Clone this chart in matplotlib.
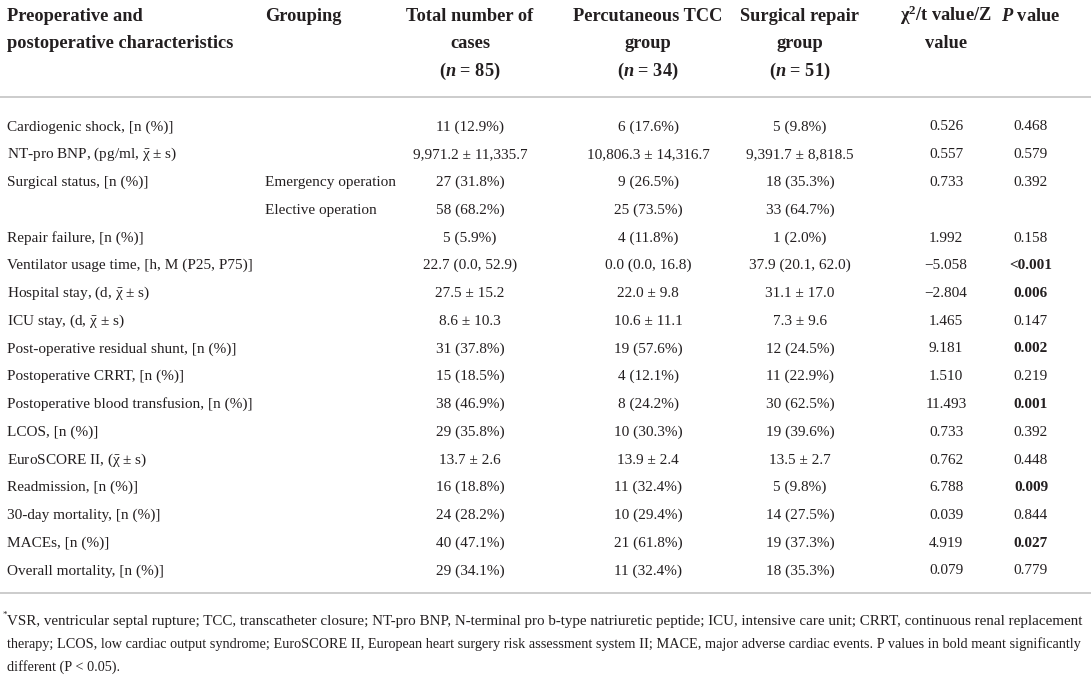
import matplotlib
matplotlib.use("Agg")
import matplotlib.pyplot as plt

plt.rcParams["font.family"] = ["Liberation Serif", "DejaVu Serif"]
plt.rcParams["mathtext.fontset"] = "custom"
plt.rcParams["mathtext.rm"] = "Liberation Serif"
plt.rcParams["mathtext.it"] = "Liberation Serif:italic"
plt.rcParams["mathtext.bf"] = "Liberation Serif:bold"
plt.rcParams["mathtext.bfit"] = "Liberation Serif:bold:italic"

XBAR = r"$\bar{\mathrm{\chi}}$"

# ---- table content ----
header_cols = [
    ["Preoperative and", "postoperative characteristics"],
    ["Grouping"],
    ["Total number of", "cases", r"($\boldsymbol{n}$ = 85)"],
    ["Percutaneous TCC", "group", r"($\boldsymbol{n}$ = 34)"],
    ["Surgical repair", "group", r"($\boldsymbol{n}$ = 51)"],
    [r"$\mathbf{\chi^2}$/t value/Z", "value"],
    [r"$\boldsymbol{P}$ value"],
]

characteristics = [
    "Cardiogenic shock, [n (%)]",
    f"NT-pro BNP, (pg/ml, {XBAR} \u00b1 s)",
    "Surgical status, [n (%)]",
    "",
    "Repair failure, [n (%)]",
    "Ventilator usage time, [h, M (P25, P75)]",
    f"Hospital stay, (d, {XBAR} \u00b1 s)",
    f"ICU stay, (d, {XBAR} \u00b1 s)",
    "Post-operative residual shunt, [n (%)]",
    "Postoperative CRRT, [n (%)]",
    "Postoperative blood transfusion, [n (%)]",
    "LCOS, [n (%)]",
    f"EuroSCORE II, ({XBAR} \u00b1 s)",
    "Readmission, [n (%)]",
    "30-day mortality, [n (%)]",
    "MACEs, [n (%)]",
    "Overall mortality, [n (%)]",
]
grouping = ["", "", "Emergency operation", "Elective operation"] + [""] * 13
total = [
    "11 (12.9%)", "9,971.2 \u00b1 11,335.7", "27 (31.8%)", "58 (68.2%)",
    "5 (5.9%)", "22.7 (0.0, 52.9)", "27.5 \u00b1 15.2", "8.6 \u00b1 10.3",
    "31 (37.8%)", "15 (18.5%)", "38 (46.9%)", "29 (35.8%)", "13.7 \u00b1 2.6",
    "16 (18.8%)", "24 (28.2%)", "40 (47.1%)", "29 (34.1%)",
]
tcc = [
    "6 (17.6%)", "10,806.3 \u00b1 14,316.7", "9 (26.5%)", "25 (73.5%)",
    "4 (11.8%)", "0.0 (0.0, 16.8)", "22.0 \u00b1 9.8", "10.6 \u00b1 11.1",
    "19 (57.6%)", "4 (12.1%)", "8 (24.2%)", "10 (30.3%)", "13.9 \u00b1 2.4",
    "11 (32.4%)", "10 (29.4%)", "21 (61.8%)", "11 (32.4%)",
]
surgical = [
    "5 (9.8%)", "9,391.7 \u00b1 8,818.5", "18 (35.3%)", "33 (64.7%)",
    "1 (2.0%)", "37.9 (20.1, 62.0)", "31.1 \u00b1 17.0", "7.3 \u00b1 9.6",
    "12 (24.5%)", "11 (22.9%)", "30 (62.5%)", "19 (39.6%)", "13.5 \u00b1 2.7",
    "5 (9.8%)", "14 (27.5%)", "19 (37.3%)", "18 (35.3%)",
]
stat_value = [
    "0.526", "0.557", "0.733", "", "1.992", "\u22125.058", "\u22122.804",
    "1.465", "9.181", "1.510", "11.493", "0.733", "0.762", "6.788",
    "0.039", "4.919", "0.079",
]
p_value = [
    "0.468", "0.579", "0.392", "", "0.158", "<0.001", "0.006", "0.147",
    "0.002", "0.219", "0.001", "0.392", "0.448", "0.009", "0.844",
    "0.027", "0.779",
]
significant = [False, False, False, False, False, True, True, False,
               True, False, True, False, False, True, False, True, False]

footnote_lines = [
    "VSR, ventricular septal rupture; TCC, transcatheter closure; NT-pro BNP, "
    "N-terminal pro b-type natriuretic peptide; ICU, intensive care unit; "
    "CRRT, continuous renal replacement",
    "therapy; LCOS, low cardiac output syndrome; EuroSCORE II, European heart "
    "surgery risk assessment system II; MACE, major adverse cardiac events. "
    "P values in bold meant significantly",
    "different (P < 0.05).",
]

# ---- layout (pixel coordinates) ----
W, H = 1091, 678
fig = plt.figure(figsize=(W / 100, H / 100), dpi=100)
ax = fig.add_axes([0, 0, 1, 1])
ax.set_xlim(0, W)
ax.set_ylim(H, 0)
ax.axis("off")

FS = 11.0
HFS = 13.2
col_x = [7, 265, 470, 648, 800, 946, 1031]
col_ha = ["left", "left", "center", "center", "center", "center", "center"]
txt = "#231f20"

head_base = [21, 48.5, 76]
for x, ha, lines in zip(col_x, col_ha, header_cols):
    for k, line in enumerate(lines):
        ax.text(x, head_base[k], line, ha=ha, va="baseline", fontsize=HFS,
                fontweight="bold", color=txt)

ax.plot([0, W], [97, 97], color="#c8c8c8", lw=1.3)
ax.plot([0, W], [593, 593], color="#c8c8c8", lw=1.3)

row_base0, row_dy = 130.5, 27.75
columns = [characteristics, grouping, total, tcc, surgical, stat_value]
for i in range(len(characteristics)):
    y = row_base0 + i * row_dy
    for x, ha, col in zip(col_x, col_ha, columns):
        ax.text(x, y, col[i], ha=ha, va="baseline", fontsize=FS, color=txt)
    ax.text(col_x[6], y, p_value[i], ha="center", va="baseline", fontsize=FS,
            color=txt, fontweight="bold" if significant[i] else "normal")

# footnote, first two lines stretched to the full width
fig.canvas.draw()
renderer = fig.canvas.get_renderer()
foot_base = [625, 648, 671]
ax.text(3, foot_base[0] - 8, "*", ha="left", va="baseline", fontsize=6.5, color=txt)
sizes = []
for j, (line, y) in enumerate(zip(footnote_lines, foot_base)):
    t = ax.text(7, y, line, ha="left", va="baseline", fontsize=9, color=txt)
    if j < 2:
        w = t.get_window_extent(renderer).width
        sizes.append(9 * (1078 - 7) / w)
        t.set_fontsize(sizes[-1])
    else:
        t.set_fontsize(min(sizes))

fig.savefig("out.png", dpi=100, facecolor="white")
